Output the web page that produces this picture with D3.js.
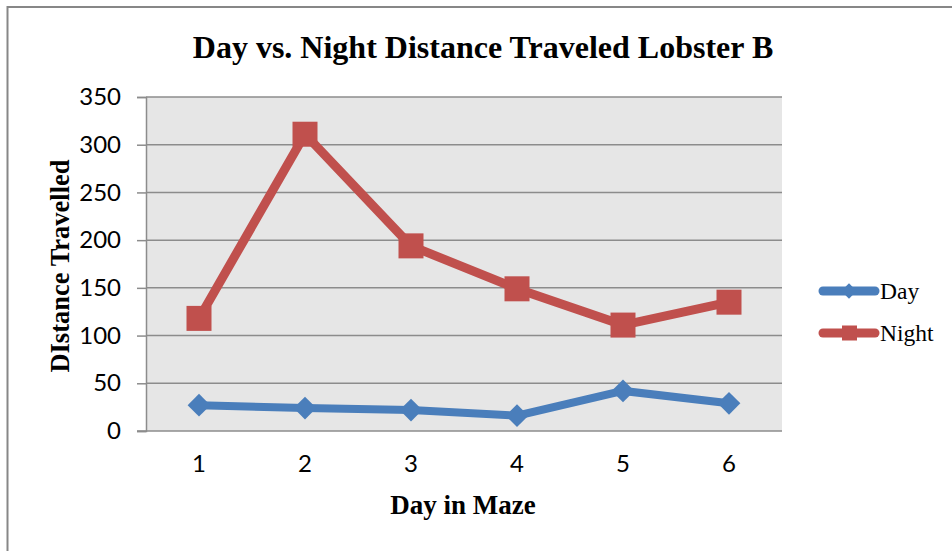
<!DOCTYPE html>
<html>
<head>
<meta charset="utf-8">
<script src="https://cdn.jsdelivr.net/npm/d3@7"></script>
<style>
  body { margin: 0; background: #fff; }
  svg { display: block; }
</style>
</head>
<body>
<div id="chart"></div>
<script>
// chart data
var days = [1, 2, 3, 4, 5, 6];
var dayValues = [27, 24, 22, 16, 42, 29];
var nightValues = [118, 311, 194, 149, 111, 135];
var yTicks = [0, 50, 100, 150, 200, 250, 300, 350];
var seriesNames = ['Day', 'Night'];
var seriesColors = ['#4a7ebb', '#c0504d'];

var width = 952, height = 551;
var plot = { left: 146, right: 782, top: 97, bottom: 431 };

var svg = d3.select('#chart').append('svg')
    .attr('width', width)
    .attr('height', height);

// outer chart border (runs off the right and bottom edge)
svg.append('rect')
    .attr('x', 7.5).attr('y', 7)
    .attr('width', 1000).attr('height', 600)
    .style('fill', '#fff')
    .style('stroke', '#878787')
    .style('stroke-width', 2);

// scales
var x = d3.scaleBand().domain(days).range([plot.left, plot.right]);
var y = d3.scaleLinear().domain([0, 350]).range([plot.bottom, plot.top]);

// plot background
svg.append('rect')
    .attr('x', plot.left).attr('y', plot.top)
    .attr('width', plot.right - plot.left)
    .attr('height', plot.bottom - plot.top)
    .style('fill', '#e6e6e6');

// gridlines
svg.append('g').selectAll('line')
    .data(yTicks.filter(function(d) { return d > 0; }))
    .join('line')
    .attr('x1', plot.left).attr('x2', plot.right)
    .attr('y1', function(d) { return y(d); })
    .attr('y2', function(d) { return y(d); })
    .style('stroke', '#8c8c8c')
    .style('stroke-width', 1.5);

var sans = 'Lato, "Open Sans", sans-serif';

// y axis
var yAxis = svg.append('g')
    .attr('transform', 'translate(' + plot.left + ',0)')
    .call(d3.axisLeft(y).tickValues(yTicks).tickSize(9).tickPadding(16));
yAxis.select('.domain').style('stroke', '#8c8c8c').style('stroke-width', 1.5);
yAxis.selectAll('.tick line').style('stroke', '#8c8c8c').style('stroke-width', 1.5);
yAxis.selectAll('.tick text')
    .style('font-family', sans)
    .style('font-size', '24px')
    .style('fill', '#000');

// x axis
var xAxis = svg.append('g')
    .attr('transform', 'translate(0,' + plot.bottom + ')')
    .call(d3.axisBottom(x).tickSize(0).tickPadding(24));
xAxis.select('.domain').remove();
svg.append('line')
    .attr('x1', plot.left - 9).attr('x2', plot.right)
    .attr('y1', plot.bottom).attr('y2', plot.bottom)
    .style('stroke', '#8c8c8c')
    .style('stroke-width', 1.5);
xAxis.selectAll('.tick text')
    .style('font-family', sans)
    .style('font-size', '24px')
    .style('fill', '#000');

// lines and markers
var line = d3.line()
    .x(function(d) { return x(d[0]) + x.bandwidth() / 2; })
    .y(function(d) { return y(d[1]); });

var dayData = days.map(function(d, i) { return [d, dayValues[i]]; });
var nightData = days.map(function(d, i) { return [d, nightValues[i]]; });

svg.append('path')
    .attr('d', line(nightData))
    .style('fill', 'none')
    .style('stroke', seriesColors[1])
    .style('stroke-width', 9)
    .style('stroke-linejoin', 'miter');

svg.append('g').selectAll('rect')
    .data(nightData)
    .join('rect')
    .attr('x', function(d) { return x(d[0]) + x.bandwidth() / 2 - 12.5; })
    .attr('y', function(d) { return y(d[1]) - 12.5; })
    .attr('width', 25).attr('height', 25)
    .style('fill', seriesColors[1]);

svg.append('path')
    .attr('d', line(dayData))
    .style('fill', 'none')
    .style('stroke', seriesColors[0])
    .style('stroke-width', 8);

var diamond = d3.symbol().type(d3.symbolDiamond2).size(330);
svg.append('g').selectAll('path')
    .data(dayData)
    .join('path')
    .attr('d', diamond)
    .attr('transform', function(d) {
        return 'translate(' + (x(d[0]) + x.bandwidth() / 2) + ',' + y(d[1]) + ')';
    })
    .style('fill', seriesColors[0]);

// title and axis titles
var serif = '"Liberation Serif", "Times New Roman", serif';
svg.append('text')
    .attr('x', 483).attr('y', 58)
    .attr('text-anchor', 'middle')
    .style('font-family', serif)
    .style('font-weight', 'bold')
    .style('font-size', '32px')
    .text('Day vs. Night Distance Traveled Lobster B');

svg.append('text')
    .attr('x', 463).attr('y', 514)
    .attr('text-anchor', 'middle')
    .style('font-family', serif)
    .style('font-weight', 'bold')
    .style('font-size', '27px')
    .text('Day in Maze');

svg.append('text')
    .attr('transform', 'translate(69,266) rotate(-90)')
    .attr('text-anchor', 'middle')
    .style('font-family', serif)
    .style('font-weight', 'bold')
    .style('font-size', '26.5px')
    .text('DIstance Travelled');

// legend
var legend = svg.append('g');
seriesNames.forEach(function(name, i) {
    var ly = 291 + i * 42;
    legend.append('line')
        .attr('x1', 823).attr('x2', 875)
        .attr('y1', ly).attr('y2', ly)
        .style('stroke', seriesColors[i])
        .style('stroke-width', 9)
        .style('stroke-linecap', 'round');
    if (i === 0) {
        legend.append('path')
            .attr('d', d3.symbol().type(d3.symbolDiamond2).size(150))
            .attr('transform', 'translate(849,' + ly + ')')
            .style('fill', seriesColors[i]);
    } else {
        legend.append('rect')
            .attr('x', 842).attr('y', ly - 7.5)
            .attr('width', 15).attr('height', 15)
            .style('fill', seriesColors[i]);
    }
    legend.append('text')
        .attr('x', 880).attr('y', ly + 8)
        .style('font-family', serif)
        .style('font-size', '23.5px')
        .text(name);
});
</script>
</body>
</html>
